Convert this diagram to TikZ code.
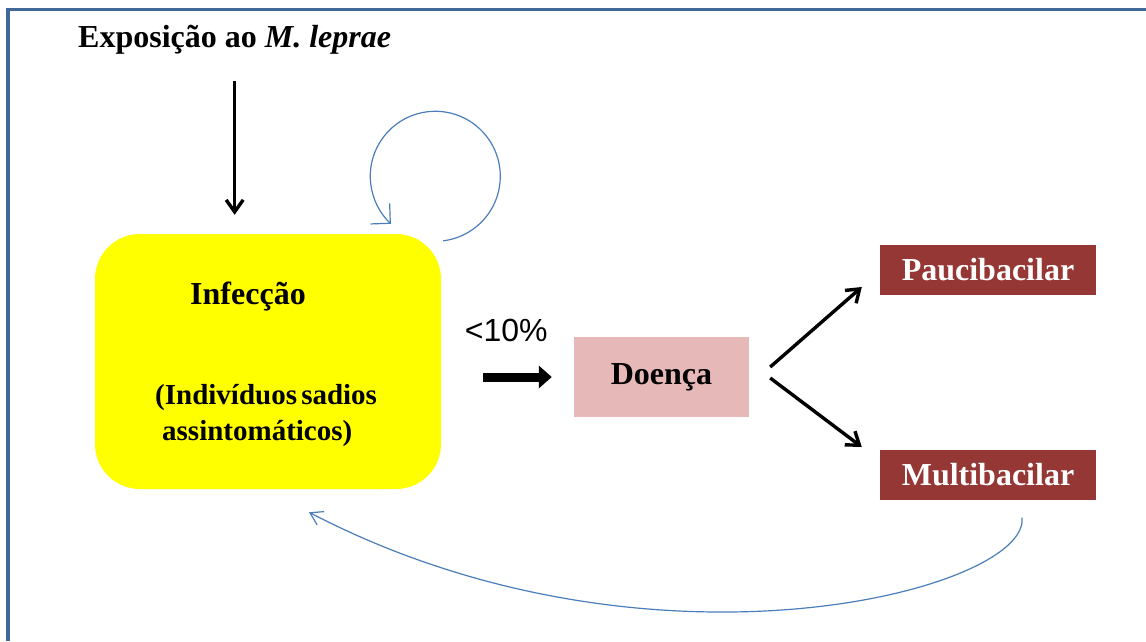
\documentclass[tikz,border=0pt]{standalone}
\usepackage{fontspec}
\setmainfont{Liberation Serif}
\setsansfont{Liberation Sans}
\usetikzlibrary{arrows.meta,positioning,calc}
\definecolor{frameblue}{HTML}{41689A}
\definecolor{infyellow}{HTML}{FFFF00}
\definecolor{doenpink}{HTML}{E6B8B7}
\definecolor{formred}{HTML}{953735}
\definecolor{loopblue}{HTML}{4A7EBB}

\begin{document}
\begin{tikzpicture}[x=1pt, y=-1pt,
  font=\fontsize{32}{36}\selectfont\bfseries,
  box/.style={inner sep=0pt, align=center},
  infbox/.style={box, fill=infyellow, rounded corners=45pt, minimum width=346pt, minimum height=255pt},
  doen/.style={box, fill=doenpink, minimum width=175pt, minimum height=80pt},
  form/.style={box, fill=formred, text=white, minimum width=216pt, minimum height=50pt},
  arr/.style={-{Straight Barb[length=12pt,width=17pt]}, line width=3.4pt},
  bigarr/.style={-{Triangle[length=13pt,width=22pt]}, line width=9pt},
  back/.style={-{Straight Barb[length=12pt,width=15pt]}, draw=loopblue, line width=1.2pt}]
\useasboundingbox (0,0) rectangle (1146,641);
% frame
\draw[frameblue, line width=3.5pt] (8,641) -- (8,9.5) -- (1146,9.5);
% exposure and infection
\node[anchor=base west, inner sep=0pt] (expo) at (78,47) {Exposição ao \textit{M. leprae}};
\node[infbox] (inf) at (268,361.5) {};
\node[anchor=base, inner sep=0pt] (inftitle) at (248,304) {Infecção};
\node[anchor=north west, inner sep=0pt, align=left, font=\fontsize{29}{36}\selectfont\bfseries] (inftext) at (155,384)
  {(Indivíduos\hspace{-3pt} sadios\\\hspace{7pt}assintomáticos)};
% disease and forms
\node[doen] (doenca) at (661.5,377) {Doença};
\node[form] (pauci) at (988,270) {Paucibacilar};
\node[form] (multi) at (988,474.5) {Multibacilar};

\coordinate (loopstart) at ([xshift=2pt,yshift=-7pt]inf.north east);
\coordinate (backstart) at ([xshift=34pt,yshift=-18pt]multi.south);
\coordinate (backend) at ([xshift=41pt,yshift=-23pt]inf.south);

\draw[arr, shorten <=27pt, shorten >=19pt] (expo.south) -- (expo.south |- inf.north);
\draw[bigarr, shorten <=42pt, shorten >=22pt] (doenca.west -| inf.east) -- (doenca.west)
  node[pos=.49, above=31pt, inner sep=0pt, font=\sffamily\fontsize{32}{36}\selectfont] {<10\%};
\draw[arr] ([xshift=21pt,yshift=10pt]doenca.east) -- ([xshift=-18pt,yshift=-17pt]pauci.west);
\draw[arr] ([xshift=21pt,yshift=-1pt]doenca.east) -- ([xshift=-18pt,yshift=27.5pt]multi.west);
% feedback
\draw[back, -{Straight Barb[length=14pt,width=28pt]}] (loopstart) arc[start angle=83, end angle=-227, radius=65];
\draw[back] (backstart) .. controls (1030,590) and (650,690) .. (backend);
\end{tikzpicture}
\end{document}
